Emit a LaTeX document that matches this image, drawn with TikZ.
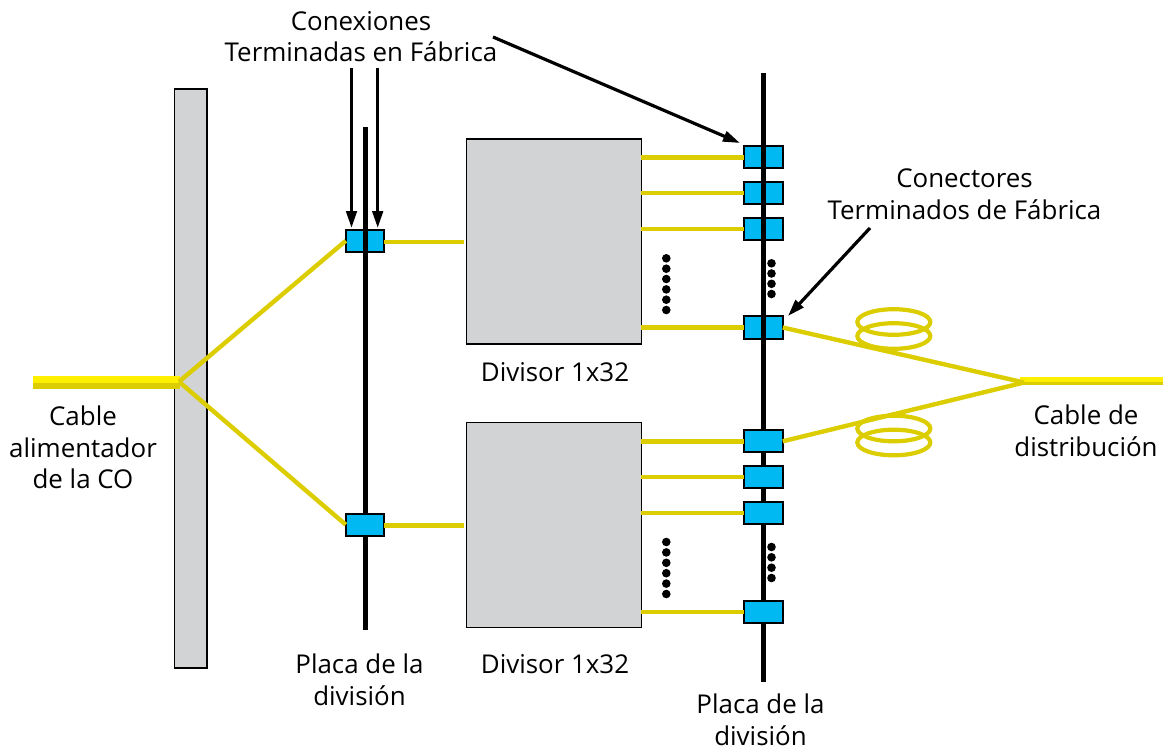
\documentclass[tikz,border=0pt]{standalone}
\usepackage{fontspec}
\setmainfont{Open Sans}
\usetikzlibrary{arrows.meta}
\definecolor{fib}{RGB}{220,205,0}
\definecolor{fibb}{RGB}{255,240,0}
\definecolor{cy}{RGB}{0,185,242}
\definecolor{gr}{RGB}{209,211,212}
\tikzset{
 x=1pt,y=-1pt,
 lbl/.style={font=\fontsize{25.9}{31.5}\selectfont,align=center,inner sep=0pt,text=black},
 fiber/.style={draw=fib,line width=4.4pt},
 board/.style={line width=5pt,black},
 conn/.style={draw=black,fill=cy,line width=2.1pt,minimum width=38.5pt,minimum height=22.2pt,inner sep=0pt,outer sep=0pt},
 panel/.style={draw=black,fill=gr,line width=1.5pt,inner sep=0pt,outer sep=0pt},
 pointer/.style={line width=3.2pt,black,-{Triangle[length=17pt,width=10.5pt]}},
 dotm/.style={fill=black,circle,inner sep=0pt,minimum size=8.6pt},
 coil/.style={draw=fib,line width=4.2pt},
}
\begin{document}
\begin{tikzpicture}
\useasboundingbox (0,0) rectangle (1163,750);
% panels
\node[panel,minimum width=32.5pt,minimum height=579pt] (backp) at (190.7,378.5) {};
\node[panel,minimum width=175pt,minimum height=205pt] (s1) at (553.8,241.5) {};
\node[panel,minimum width=175pt,minimum height=205pt] (s2) at (553.8,525) {};
\coordinate (lj) at (179,381.7);
\coordinate (rj) at (1024,382.5);
\coordinate (bat) at (365,127); \coordinate (bab) at (365,630);
\coordinate (bbt) at (763,73); \coordinate (bbb) at (763,682);
% coils
\foreach \y in {322,336,428.5,442.5}{\draw[coil] (893.8,\y) ellipse (36.5pt and 12.8pt);}
% feeder cables
\coordinate (la) at (33,379.3); \coordinate (lb) at (180,379.3);
\coordinate (lc) at (33,385.7); \coordinate (ld) at (180,385.7);
\coordinate (ra) at (1020,379.5); \coordinate (rb) at (1163,379.5);
\coordinate (rc) at (1020,383.7); \coordinate (rd) at (1163,383.7);
\draw[fibb,line width=6.5pt] (la) -- (lb);
\draw[fib,line width=6pt] (lc) -- (ld);
\draw[fibb,line width=5pt] (ra) -- (rb);
\draw[fib,line width=3.3pt] (rc) -- (rd);
% connectors
\node[conn] (ca) at (365,240.8) {};
\draw[board] (bat) -- (bab);
\node[conn] (cb) at (365,524.7) {};
\draw[board] (bbt) -- (bbb);
\foreach \n/\y in {r1/157.3,r2/192.7,r3/228.7,r4/327.5}{\node[conn] (\n) at (763.5,\y) {};\draw[board] (bbt|-\n.north) -- (bbt|-\n.south);}
\foreach \n/\y in {q1/441.3,q2/476.7,q3/512.7,q4/611.7}{\node[conn] (\n) at (763.5,\y) {};}
% fibers
\coordinate (sa) at (463.5,241.8);
\coordinate (sb) at (463.5,525.5);
\draw[fiber] (lj) -- (ca.west);
\draw[fiber] (lj) -- (cb.west);
\draw[fiber] (ca.east|-sa) -- (sa);
\draw[fiber] (cb.east|-sb) -- (sb);
\foreach \n in {r1,r2,r3,r4}{\draw[fiber] (s1.east|-\n) -- (\n.west);}
\foreach \n in {q1,q2,q3,q4}{\draw[fiber] (s2.east|-\n) -- (\n.west);}
\draw[fiber] (r4.east) -- (rj);
\draw[fiber] (q1.east) -- (rj);
% dots
\foreach \y in {258.3,268.7,279,289.4,299.7,310}{\node[dotm] (da\y) at (666.3,\y) {};}
\foreach \y in {263.3,273.5,283.8,294}{\node[dotm] (db\y) at (771.5,\y) {};}
\foreach \y in {542,552.4,562.8,573.2,583.6,594}{\node[dotm] (dc\y) at (666.3,\y) {};}
\foreach \y in {547,557.3,567.7,578}{\node[dotm] (dd\y) at (771.5,\y) {};}
% labels
\node[lbl] (t1) at (361,36.5) {Conexiones\\Terminadas en Fábrica};
\node[lbl] (t2) at (964.5,194) {Conectores\\Terminados de Fábrica};
\node[lbl] (t3) at (83,447.5) {Cable\\alimentador\\de la CO};
\node[lbl] (t4) at (555,372) {Divisor 1x32};
\node[lbl] (t5) at (555,664) {Divisor 1x32};
\node[lbl] (t6) at (359.5,680) {Placa de la\\división};
\node[lbl] (t7) at (760.5,720) {Placa de la\\división};
\node[lbl] (t8) at (1086,431) {Cable de\\distribución};
% pointers
\coordinate (p1) at (351.5,68); \coordinate (p1t) at (351.5,228);
\coordinate (p2) at (377.7,68); \coordinate (p2t) at (377.7,228);
\draw[pointer] (p1) -- (p1t);
\draw[pointer] (p2) -- (p2t);
\coordinate (p3) at (493,37); \coordinate (p3t) at (740,143);
\draw[pointer] (p3) -- (p3t);
\coordinate (p4) at (870,228); \coordinate (p4t) at (788,316);
\draw[pointer] (p4) -- (p4t);
\end{tikzpicture}
\end{document}
